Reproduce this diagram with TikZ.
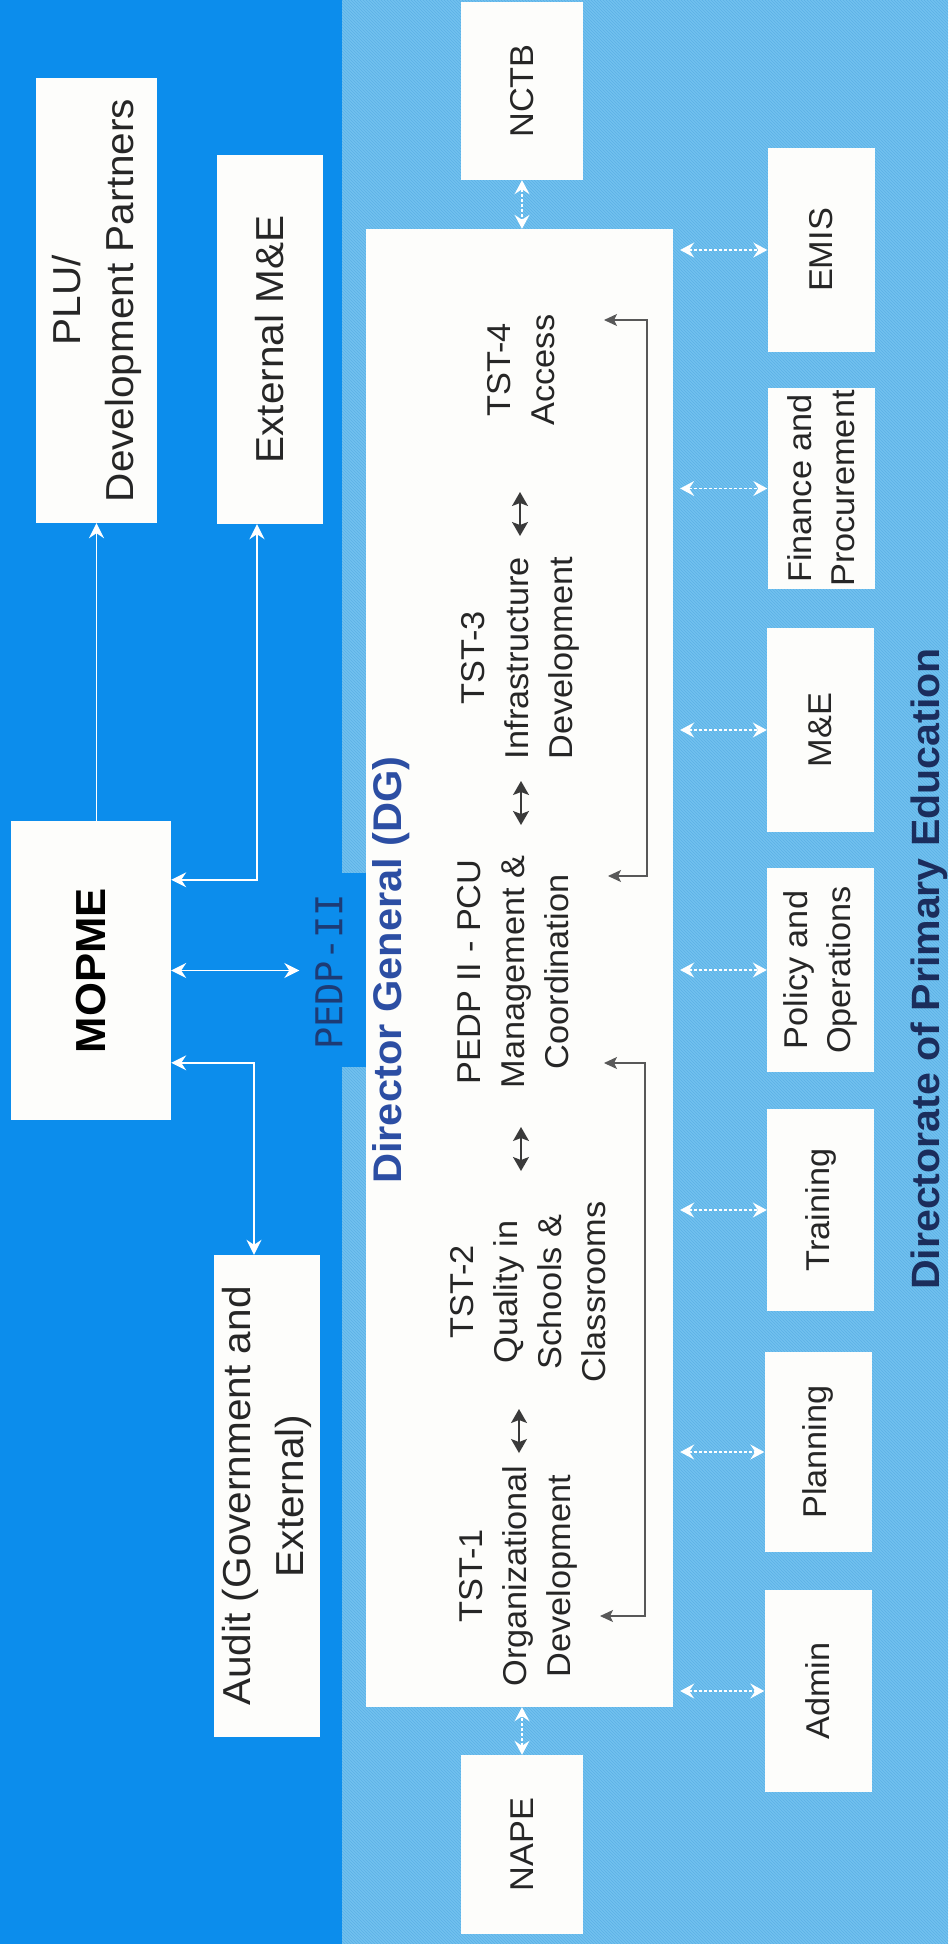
\documentclass[tikz,border=0pt]{standalone}
\usepackage{fontspec}
\setmainfont{Liberation Sans}[FakeStretch=1.04]
\newfontfamily\monof{DejaVu Sans Mono}
\usetikzlibrary{arrows.meta,calc,patterns}
\definecolor{darkbg}{HTML}{0C8DEC}
\definecolor{lightbg}{HTML}{71C1EF}
\definecolor{hatch}{HTML}{5CB1E6}
\definecolor{boxw}{HTML}{FDFDFB}
\definecolor{txt}{HTML}{262626}
\definecolor{dgblue}{HTML}{2C4EA3}
\definecolor{navy}{HTML}{1B2D5C}
\definecolor{pedpc}{HTML}{1D3B75}
\definecolor{innerc}{HTML}{3A3A3A}
\tikzset{
  WT/.tip={Stealth[length=15pt,width=15pt,inset=5pt]},
  LT/.tip={Stealth[length=14pt,width=15pt,inset=5pt]},
  DT/.tip={Stealth[length=14pt,width=16pt,inset=3pt]},
  BT/.tip={Stealth[length=13pt,width=12pt,inset=3pt]},
  wbox/.style={fill=boxw, draw=none, rotate=90, inner sep=0pt, align=center, text=txt},
  lbox/.style={wbox, font=\fontsize{39}{53}\selectfont},
  rbox/.style={wbox, font=\fontsize{33}{43}\selectfont, minimum height=107pt},
  tsttxt/.style={rotate=90, align=center, inner sep=0pt, text=txt, font=\fontsize{33}{44}\selectfont},
  warrow/.style={draw=white, line width=1.6pt},
  larrow/.style={draw=white, line width=1.4pt, dash pattern=on 3pt off 2pt, {LT}-{LT}},
  tarrow/.style={draw=innerc, line width=1.3pt, {DT}-{DT}},
  barrow/.style={draw=innerc!85!white, line width=1.1pt, {BT}-{BT}}
}
\begin{document}
\begin{tikzpicture}[x=1pt,y=-1pt]
\useasboundingbox (0,0) rectangle (948,1944);
% backgrounds
\fill[darkbg] (0,0) rectangle (342,1944);
\fill[lightbg] (342,0) rectangle (948,1944);
\fill[pattern=north west lines, pattern color=hatch] (342,0) rectangle (948,1944);
\fill[darkbg] (340,873) rectangle (368,1067);

% left (ministry) side
\node[lbox, minimum width=445pt, minimum height=121pt] (plu) at (96.5,300.5) {PLU/\\Development Partners};
\node[lbox, minimum width=369pt, minimum height=106pt] (extme) at (270,339.5) {External M\&E};
\node[wbox, minimum width=299pt, minimum height=160pt, font=\bfseries\fontsize{42}{42}\selectfont, text=black] (mopme) at (91,970.5) {MOPME};
\node[lbox, minimum width=482pt, minimum height=106pt] (audit) at (267,1496) {Audit (Government and\\External)};
\node[rotate=90, inner sep=0pt, font=\monof\fontsize{37}{37}\selectfont, text=pedpc] (pedp) at (329,972) {PEDP-II};

% main DG box
\node[wbox, minimum width=1478pt, minimum height=307pt] (dg) at (519.5,968) {};
\node[rotate=90, inner sep=0pt, font=\bfseries\fontsize{40}{40}\selectfont, text=dgblue] (dgtitle) at (391,970) {Director General (DG)};

% top / bottom boxes
\node[rbox, minimum width=178pt, minimum height=122pt] (nctb) at (522,91) {NCTB};
\node[rbox, minimum width=179pt, minimum height=122pt] (nape) at (522,1844.5) {NAPE};

% right boxes
\node[rbox, minimum width=204pt] (emis) at (821,250) {EMIS};
\node[rbox, minimum width=201pt] (fin) at (821,488.5) {Finance and\\Procurement};
\node[rbox, minimum width=204pt] (mne) at (820.5,730) {M\&E};
\node[rbox, minimum width=204pt] (policy) at (820.5,970) {Policy and\\Operations};
\node[rbox, minimum width=202pt] (training) at (820.5,1210) {Training};
\node[rbox, minimum width=200pt] (planning) at (818,1452) {Planning};
\node[rbox, minimum width=202pt] (admin) at (818,1691) {Admin};

% TST texts
\node[tsttxt] (tst4) at (521,370) {TST-4\\Access};
\node[tsttxt] (tst3) at (520,658) {TST-3\\Infrastructure\\Development};
\node[tsttxt] (pcu) at (513,972) {PEDP II - PCU\\Management \&\\Coordination};
\node[tsttxt] (tst2) at (528,1292) {TST-2\\Quality in\\Schools \&\\Classrooms};
\node[tsttxt] (tst1) at (518,1576) {TST-1\\Organizational\\Development};

% bottom title
\node[rotate=90, inner sep=0pt, font=\bfseries\fontsize{39.5}{40}\selectfont, text=navy] (doped) at (929,969) {Directorate of Primary Education};

% connectors in the ministry area
\draw[warrow, -{WT}] (plu.west |- mopme.east) -- (plu.west);
\draw[warrow, {WT}-{WT}] ($(mopme.south east)+(0,59)$) -| ($(extme.west)+(-13,0)$);
\draw[warrow, {WT}-{WT}, shorten >=16pt] (mopme.south) -- (mopme.south -| pedp.north);
\draw[warrow, {WT}-{WT}] ($(mopme.south east)+(0,242)$) -| ($(audit.east)+(-13,0)$);

% NCTB / NAPE
\draw[larrow] (nctb.west) -- (nctb.west |- dg.east);
\draw[larrow] (nape.east) -- (nape.east |- dg.west);

% right side links
\foreach \b in {emis,fin,mne,policy,training,planning,admin}{
  \draw[larrow, shorten <=7pt] (dg.south |- \b.center) -- (\b.north);
}

% small arrows between TST blocks
\coordinate (a43) at (520,514);
\coordinate (a3p) at (521,803);
\coordinate (ap2) at (521,1149);
\coordinate (a21) at (519,1431);
\foreach \c in {a43,a3p,ap2,a21}{
  \draw[tarrow] ($(\c)+(0,-22)$) -- ($(\c)+(0,22)$);
}

% brackets
\coordinate (b1s) at (604,320);
\coordinate (b1e) at (608,876);
\coordinate (b2s) at (604,1063);
\coordinate (b2e) at (600,1616);
\draw[barrow] (b1s) -- ++(43,0) |- (b1e);
\draw[barrow] (b2s) -- ++(41,0) |- (b2e);
\end{tikzpicture}
\end{document}
